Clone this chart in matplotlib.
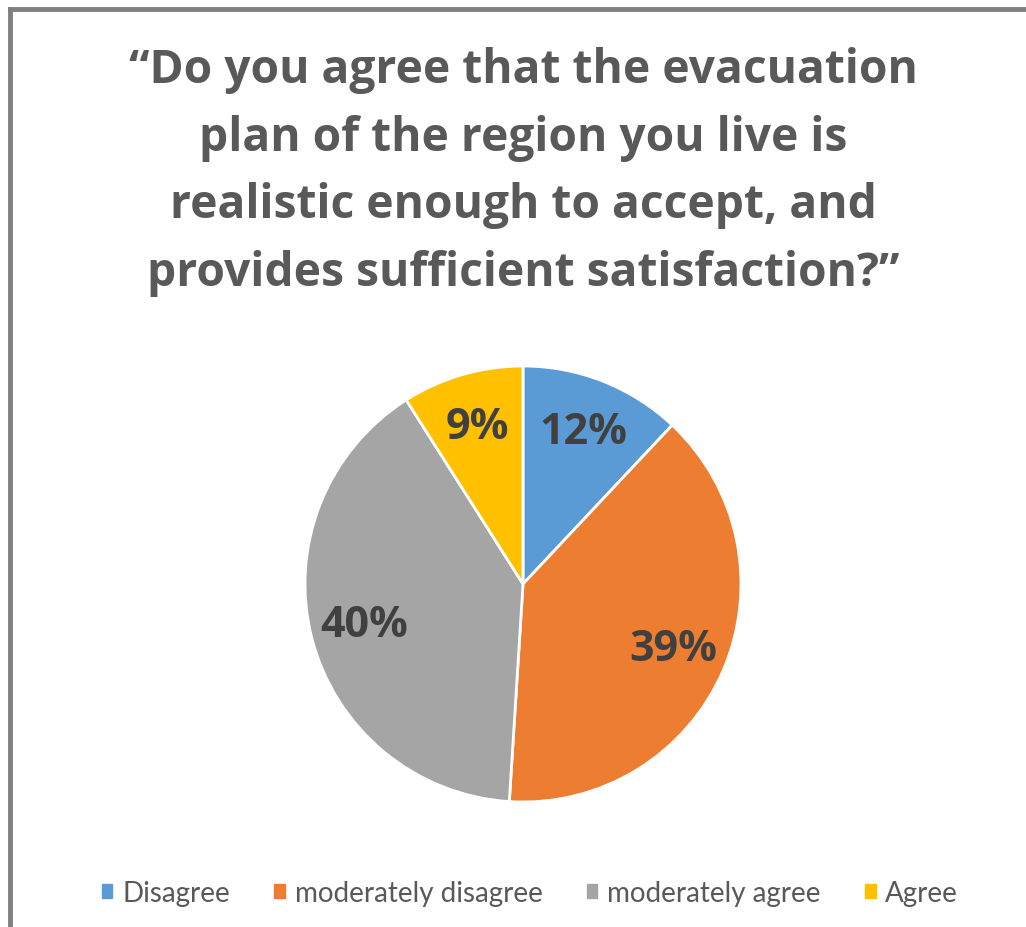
import matplotlib
matplotlib.use("Agg")
import matplotlib.pyplot as plt
from matplotlib.lines import Line2D
from matplotlib.patches import Rectangle

categories = ["Disagree", "moderately disagree", "moderately agree", "Agree"]
values = [12, 39, 40, 9]
colors = ["#5B9BD5", "#ED7D31", "#A5A5A5", "#FFC000"]
title = "\u201cDo you agree that the evacuation\nplan of the region you live is\nrealistic enough to accept, and\nprovides sufficient satisfaction?\u201d"

W, H = 1026, 928
fig = plt.figure(figsize=(W / 100, H / 100), dpi=100)
fig.patch.set_facecolor("white")

# frame (cut off on right and bottom)
fig.add_artist(Line2D([10 / W, 10 / W], [0, 1 - 10 / H], color="#808080", lw=3.5,
                      transform=fig.transFigure, solid_capstyle="projecting"))
fig.add_artist(Line2D([10 / W, 1], [1 - 10 / H, 1 - 10 / H], color="#808080", lw=3.5,
                      transform=fig.transFigure, solid_capstyle="projecting"))

fig.text(523 / W, 1 - 47 / H, title, ha="center", va="top", fontsize=33.2,
         fontweight="bold", color="#595959", family="Open Sans", linespacing=1.57)

r = 218
cx, cy = 523, H - 585
ax = fig.add_axes([(cx - r) / W, (cy - r) / H, 2 * r / W, 2 * r / H])
wedges, texts, autotexts = ax.pie(
    values, colors=colors, startangle=90, counterclock=False,
    autopct=lambda p: f"{p:.0f}%", pctdistance=0.75,
    wedgeprops=dict(edgecolor="white", linewidth=2),
    textprops=dict(fontsize=31, fontweight="bold", color="#404040", family="Open Sans"),
)
ax.set_xlim(-1, 1)
ax.set_ylim(-1, 1)
ax.set_aspect("equal")
ax.axis("off")

handles = [Rectangle((0, 0), 1, 1, color=c) for c in colors]
fig.legend(handles, categories, loc="center", bbox_to_anchor=(530 / W, 1 - 894 / H),
           ncol=4, frameon=False, handlelength=0.38, handleheight=0.38,
           handletextpad=0.35, columnspacing=1.6,
           prop=dict(family="Lato", size=20), labelcolor="#595959")

fig.savefig("out.png", dpi=100, facecolor="white")
